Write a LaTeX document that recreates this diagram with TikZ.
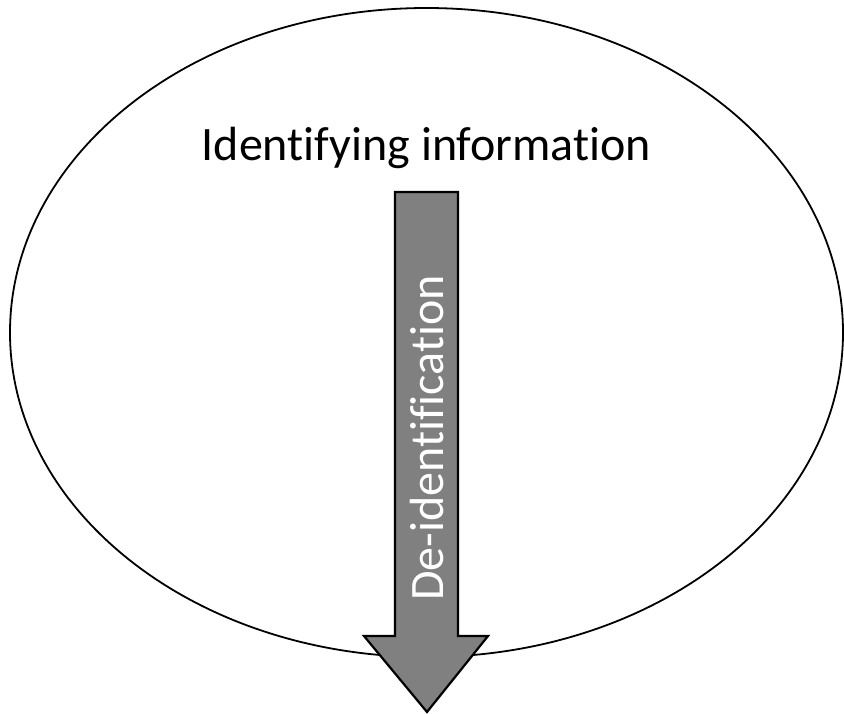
\documentclass[tikz,border=0pt]{standalone}
\usepackage{fontspec}
\setmainfont{Carlito}[Ligatures=CommonOff]
\usetikzlibrary{shapes.geometric}
\begin{document}
\begin{tikzpicture}[x=1pt,y=-1pt,
  outline/.style={draw=black,line width=1.8pt},
  flowarrow/.style={draw=black,line width=2.2pt,fill=arrowgray,line join=miter},
  bigtext/.style={font=\fontsize{48}{57}\selectfont,inner sep=0pt}]
  \definecolor{arrowgray}{RGB}{128,128,128}
  \useasboundingbox (0,0) rectangle (844,713);
  % the set of identifying information
  \node[outline,ellipse,minimum width=833pt,minimum height=649pt,inner sep=0pt]
    (set) at (426.5,332.5) {};
  \node[bigtext,anchor=base] (ident) at (426.5,160) {Identifying information};
  % downward block arrow
  \draw[flowarrow] (395,192) -- (458,192) -- (458,636) -- (488,636)
    -- (427,712) -- (364,636) -- (395,636) -- cycle;
  \node[bigtext,text=white,rotate=90,anchor=base] (deid) at (443,438)
    {De-identification};
\end{tikzpicture}
\end{document}
